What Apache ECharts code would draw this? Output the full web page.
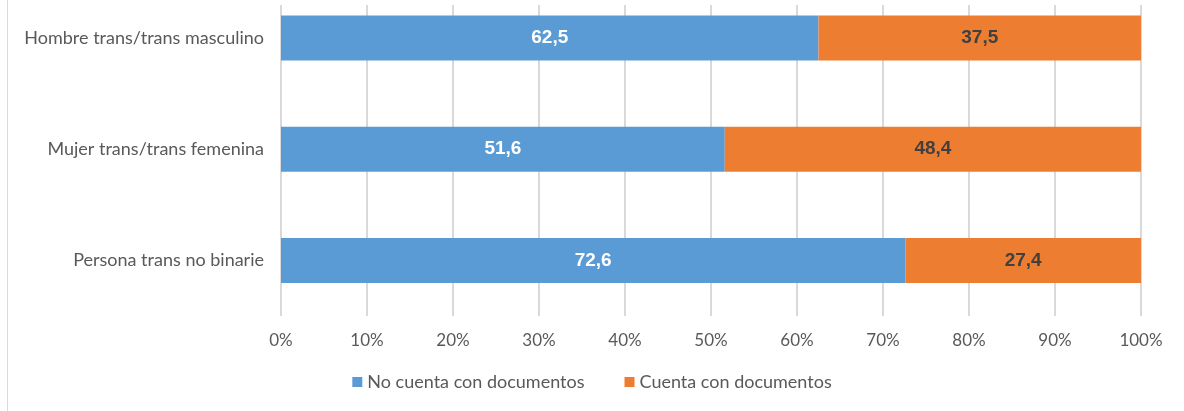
<!DOCTYPE html>
<html>
<head>
<meta charset="utf-8">
<script src="https://cdn.jsdelivr.net/npm/echarts@6/dist/echarts.min.js"></script>
<style>html,body{margin:0;padding:0;background:#fff}#c{width:1184px;height:411px}</style>
</head>
<body>
<div id="c"></div>
<script>
const categories = ["Hombre trans/trans masculino", "Mujer trans/trans femenina", "Persona trans no binarie"];
const seriesNames = ["No cuenta con documentos", "Cuenta con documentos"];
const noCuenta = [62.5, 51.6, 72.6];
const cuenta = [37.5, 48.4, 27.4];
const xTicks = [0, 10, 20, 30, 40, 50, 60, 70, 80, 90, 100];

const chart = echarts.init(document.getElementById('c'), null, {renderer: 'canvas'});
const fmt = p => p.value.toFixed(1).replace('.', ',');
chart.setOption({
  backgroundColor: '#ffffff',
  animation: false,
  graphic: [
    {type: 'line', shape: {x1: 7.5, y1: 0, x2: 7.5, y2: 411}, style: {stroke: '#d9d9d9', lineWidth: 1}},
    {type: 'rect', shape: {x: 200, y: 0, width: 984, height: 5}, style: {fill: '#ffffff'}, z: 100}
  ],
  grid: {left: 281, right: 43, top: -17.5, bottom: 95, containLabel: false, outerBoundsMode: 'none'},
  legend: {
    data: seriesNames,
    bottom: 15,
    left: 'center',
    itemWidth: 10, itemHeight: 10, itemGap: 40,
    icon: 'rect',
    textStyle: {fontFamily: 'Lato', fontSize: 18, color: '#595959'}
  },
  xAxis: {
    type: 'value', min: xTicks[0], max: xTicks[xTicks.length - 1], interval: 10,
    axisLine: {show: false}, axisTick: {show: false},
    splitLine: {show: true, lineStyle: {color: '#d9d9d9', width: 2}},
    axisLabel: {formatter: v => v + '%', fontFamily: 'Lato', fontSize: 17, color: '#595959', margin: 16}
  },
  yAxis: {
    type: 'category', data: categories, inverse: true,
    axisLine: {show: false}, axisTick: {show: false},
    axisLabel: {fontFamily: 'Lato', fontSize: 18, color: '#595959', margin: 17}
  },
  series: [
    {name: seriesNames[0], type: 'bar', stack: 't', data: noCuenta, barWidth: 45,
     itemStyle: {color: '#5B9BD5'},
     label: {show: true, position: 'inside', formatter: fmt, fontFamily: 'Arial', fontWeight: 'bold', fontSize: 19, color: '#ffffff'}},
    {name: seriesNames[1], type: 'bar', stack: 't', data: cuenta, barWidth: 45,
     itemStyle: {color: '#ED7D31'},
     label: {show: true, position: 'inside', formatter: fmt, fontFamily: 'Arial', fontWeight: 'bold', fontSize: 19, color: '#404040'}}
  ]
});
</script>
</body>
</html>
